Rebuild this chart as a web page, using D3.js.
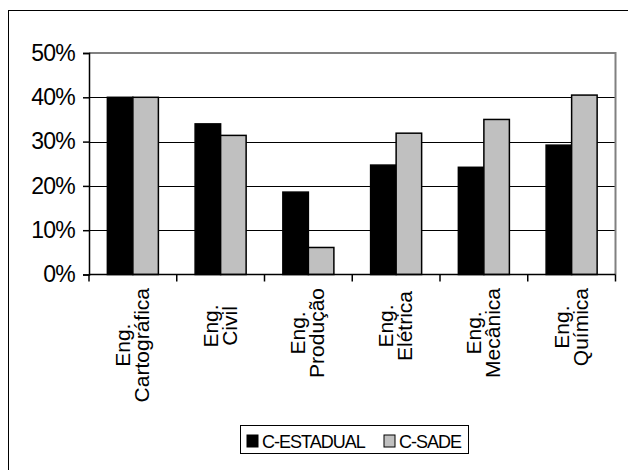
<!DOCTYPE html>
<html>
<head>
<meta charset="utf-8">
<script src="https://cdn.jsdelivr.net/npm/d3@7"></script>
<style>
  html, body { margin: 0; padding: 0; background: #fff; }
  svg { display: block; font-family: "Liberation Sans", Arial, sans-serif; }
</style>
</head>
<body>
<svg id="chart" width="628" height="470"></svg>
<script>
// Course categories (first word on line one, rest on line two)
const categories = ["Eng. Cartográfica", "Eng. Civil", "Eng. Produção", "Eng. Elétrica", "Eng. Mecânica", "Eng. Química"];
const seriesNames = ["C-ESTADUAL", "C-SADE"];
const cEstadual = [0.40, 0.34, 0.186, 0.247, 0.242, 0.292];
const cSade = [0.40, 0.314, 0.061, 0.319, 0.35, 0.405];
const yTicks = [0, 0.1, 0.2, 0.3, 0.4, 0.5];
const seriesColors = ["#000000", "#c0c0c0"];

const svg = d3.select("#chart");

// Outer chart frame
svg.append("rect")
  .attr("x", 8.5).attr("y", 10.5)
  .attr("width", 700).attr("height", 520)
  .attr("fill", "none").attr("stroke", "#000").attr("stroke-width", 1);

const plot = { left: 89, right: 615.5, top: 53, bottom: 274.5 };

const x = d3.scaleBand().domain(categories).range([plot.left, plot.right]).padding(0);
const xs = d3.scaleBand().domain(seriesNames).range([0, x.bandwidth()]).paddingInner(0).paddingOuter(0.72);
const y = d3.scaleLinear().domain([0, 0.5]).range([plot.bottom, plot.top]);

// Horizontal gridlines
svg.append("g")
  .selectAll("line")
  .data(yTicks.filter(t => t > 0 && t < 0.5))
  .join("line")
  .attr("x1", plot.left).attr("x2", plot.right)
  .attr("y1", d => Math.round(y(d)) + 0.5).attr("y2", d => Math.round(y(d)) + 0.5)
  .attr("stroke", "#000").attr("stroke-width", 1);

// Plot area border (top and right)
svg.append("path")
  .attr("d", `M${plot.left},${plot.top}H${plot.right}V${plot.bottom}`)
  .attr("fill", "none").attr("stroke", "#808080").attr("stroke-width", 2);

// Bars
const rows = categories.map((c, i) => ({ cat: c, vals: [cEstadual[i], cSade[i]] }));
svg.append("g")
  .selectAll("g")
  .data(rows)
  .join("g")
  .attr("transform", d => `translate(${x(d.cat)},0)`)
  .selectAll("rect")
  .data(d => d.vals.map((v, j) => ({ name: seriesNames[j], v, j })))
  .join("rect")
  .attr("x", d => xs(d.name))
  .attr("width", xs.bandwidth())
  .attr("y", d => y(d.v))
  .attr("height", d => y(0) - y(d.v))
  .attr("fill", d => seriesColors[d.j])
  .attr("stroke", "#000").attr("stroke-width", 1.5);

// Y axis
const yAxis = svg.append("g")
  .attr("transform", `translate(${plot.left},0)`)
  .call(d3.axisLeft(y).tickValues(yTicks).tickFormat(d3.format(".0%")).tickSize(6).tickPadding(8));
yAxis.select(".domain").attr("stroke", "#000").attr("stroke-width", 1.5);
yAxis.selectAll(".tick line").attr("stroke", "#000").attr("stroke-width", 1.5);
yAxis.selectAll(".tick text")
  .attr("font-size", 23).attr("fill", "#000")
  .attr("font-family", "Liberation Sans, Arial, sans-serif")
  .attr("letter-spacing", -0.8);

// X axis with boundary ticks
const xAxisG = svg.append("g");
xAxisG.append("line")
  .attr("x1", plot.left).attr("x2", plot.right)
  .attr("y1", plot.bottom).attr("y2", plot.bottom)
  .attr("stroke", "#000").attr("stroke-width", 1.5);
const boundaries = categories.map(c => x(c)).concat([x.range()[1]]);
xAxisG.selectAll("line.tick")
  .data(boundaries)
  .join("line")
  .attr("class", "tick")
  .attr("x1", d => d).attr("x2", d => d)
  .attr("y1", plot.bottom).attr("y2", plot.bottom + 7)
  .attr("stroke", "#000").attr("stroke-width", 1.5);

// Rotated two-line category labels
const labelTop = 288;
const minBlock = 76;
const lineGap = 19;
const labels = xAxisG.selectAll("g.lab")
  .data(categories)
  .join("g")
  .attr("class", "lab")
  .attr("transform", d => `translate(${x(d) + x.bandwidth() / 2},${labelTop}) rotate(-90)`);

labels.each(function (d) {
  const g = d3.select(this);
  const sp = d.indexOf(" ");
  const lines = [d.slice(0, sp), d.slice(sp + 1)];
  const texts = lines.map((t, k) => g.append("text")
    .attr("font-size", 21)
    .attr("fill", "#000")
    .attr("text-anchor", "middle")
    .attr("y", k === 0 ? -3 : -3 + lineGap)
    .text(t));
  const len = Math.max(minBlock, ...texts.map(t => t.node().getComputedTextLength()));
  texts.forEach(t => t.attr("x", -len / 2));
});

// Legend
const legend = svg.append("g");
legend.append("rect")
  .attr("x", 240.5).attr("y", 425.5).attr("width", 228).attr("height", 28)
  .attr("fill", "#fff").attr("stroke", "#000").attr("stroke-width", 1);
const legendX = [247, 384];
seriesNames.forEach((name, j) => {
  legend.append("rect")
    .attr("x", legendX[j]).attr("y", 435).attr("width", 11).attr("height", 12)
    .attr("fill", seriesColors[j]).attr("stroke", "#000").attr("stroke-width", 1);
  legend.append("text")
    .attr("x", legendX[j] + 15).attr("y", 448)
    .attr("font-size", 18).attr("fill", "#000")
    .attr("letter-spacing", -1)
    .text(name);
});
</script>
</body>
</html>
